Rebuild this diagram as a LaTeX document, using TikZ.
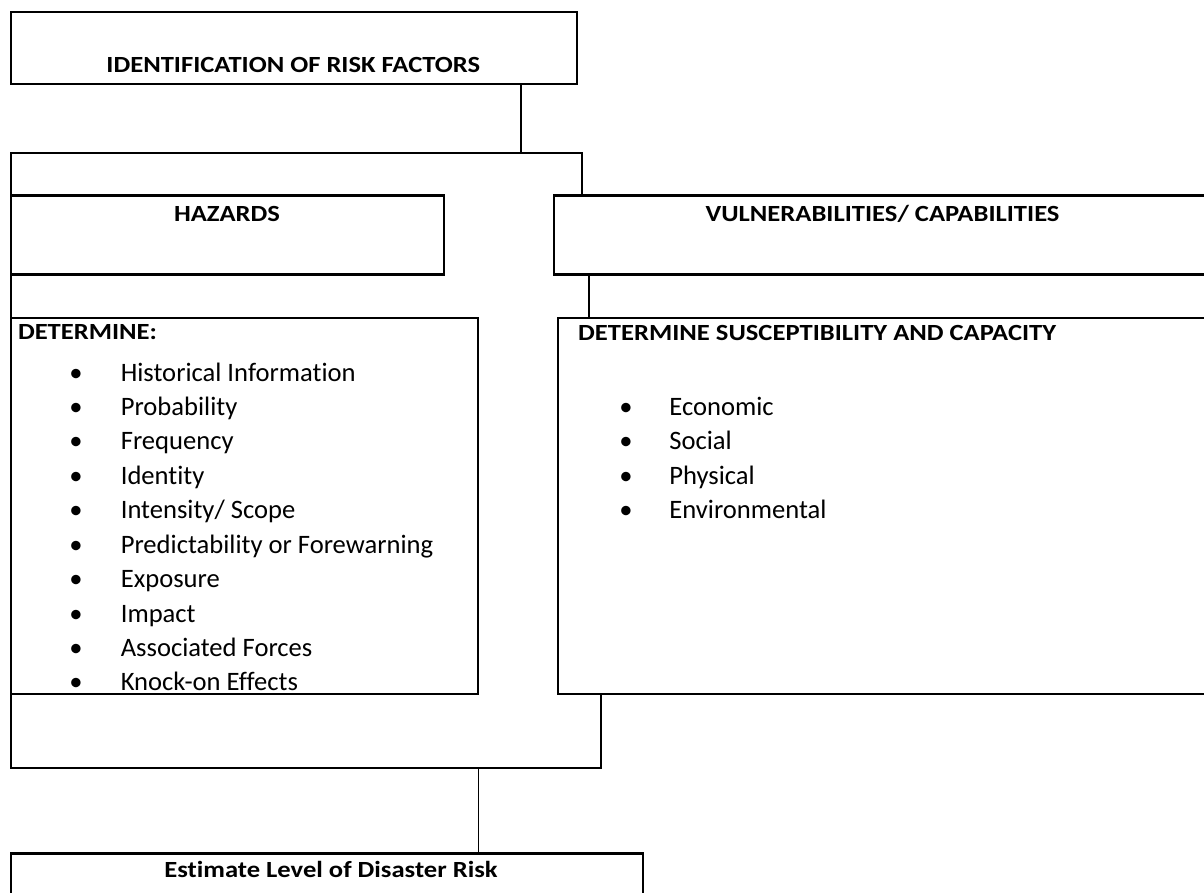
\documentclass[tikz,border=0pt]{standalone}
\usepackage{graphicx}
\usepackage{fontspec}
\setmainfont{Carlito}[Ligatures=NoCommon]
\usetikzlibrary{fit}
\newcommand{\squatbold}[1]{\scalebox{1}[0.87]{\bfseries #1}}
\begin{document}
\begin{tikzpicture}[x=1pt,y=-1pt,
  box/.style={draw, line width=2.1pt, inner sep=0pt},
  conn/.style={line width=1.6pt},
  framepath/.style={line width=2.1pt, line join=miter},
  lbl/.style={anchor=base, inner sep=0pt, font=\fontsize{26.6}{30}\selectfont},
  item/.style={anchor=base west, inner sep=0pt, font=\fontsize{26.6}{30}\selectfont},
  bul/.style={anchor=base, inner sep=0pt, font=\fontsize{26.6}{30}\selectfont}]
\useasboundingbox (0,0) rectangle (1204,893);
\clip (0,0) rectangle (1204,893);
% boxes
\node[box, fit={(10.7,11.7) (577,83.7)}] (top) {};
\node[box, fit={(10.7,195.5) (444,274.5)}] (haz) {};
\node[box, fit={(554,195.5) (1215,274.5)}] (vul) {};
\node[box, fit={(10.7,318.3) (478.4,694)}] (detL) {};
\node[box, fit={(558,318.3) (1215,694)}] (detR) {};
\node[box, fit={(10.7,853.5) (643,905)}] (est) {};
% frame and connectors
\coordinate (fa) at (582,153);
\coordinate (fb) at (10.7,153);
\coordinate (fc) at (10.7,767.7);
\coordinate (fd) at (600.7,767.7);
\draw[framepath] (fa |- vul.north) -- (fa) -- (fb) -- (fc) -- (fd) -- (fd |- detR.south);
\coordinate (c1) at (520.8,153);
\draw[conn] (c1 |- top.south) -- (c1);
\coordinate (c2) at (589,300);
\draw[conn] (c2 |- vul.south) -- (c2 |- detR.north);
\coordinate (c3) at (478.3,767.7);
\draw[conn] (c3) -- (c3 |- est.north);
% texts
\node[lbl] (t1) at (293.3,72.7) {\squatbold{IDENTIFICATION OF RISK FACTORS}};
\node[lbl] (t2) at (227,221.5) {\squatbold{HAZARDS}};
\node[lbl] (t3) at (882.5,221.5) {\squatbold{VULNERABILITIES/ CAPABILITIES}};
\node[lbl, anchor=base west] (t4) at (17.8,339.5) {\squatbold{DETERMINE:}};
\node[lbl, anchor=base west] (t5) at (578,340) {\squatbold{DETERMINE SUSCEPTIBILITY AND CAPACITY}};
\node[lbl] (t6) at (331,877) {\squatbold{Estimate Level of Disaster Risk}};
\foreach \t [count=\i] in {Historical Information, Probability, Frequency, Identity, Intensity/ Scope, Predictability or Forewarning, Exposure, Impact, Associated Forces, Knock-on Effects}{
  \node[bul] (hb\i) at (76,{381+34.44*(\i-1)}) {•};
  \node[item] (h\i) at (120.6,{381+34.44*(\i-1)}) {\t};
}
\foreach \t [count=\i] in {Economic, Social, Physical, Environmental}{
  \node[bul] (vb\i) at (626,{381+34.44*\i}) {•};
  \node[item] (v\i) at (669.2,{381+34.44*\i}) {\t};
}
\end{tikzpicture}
\end{document}
